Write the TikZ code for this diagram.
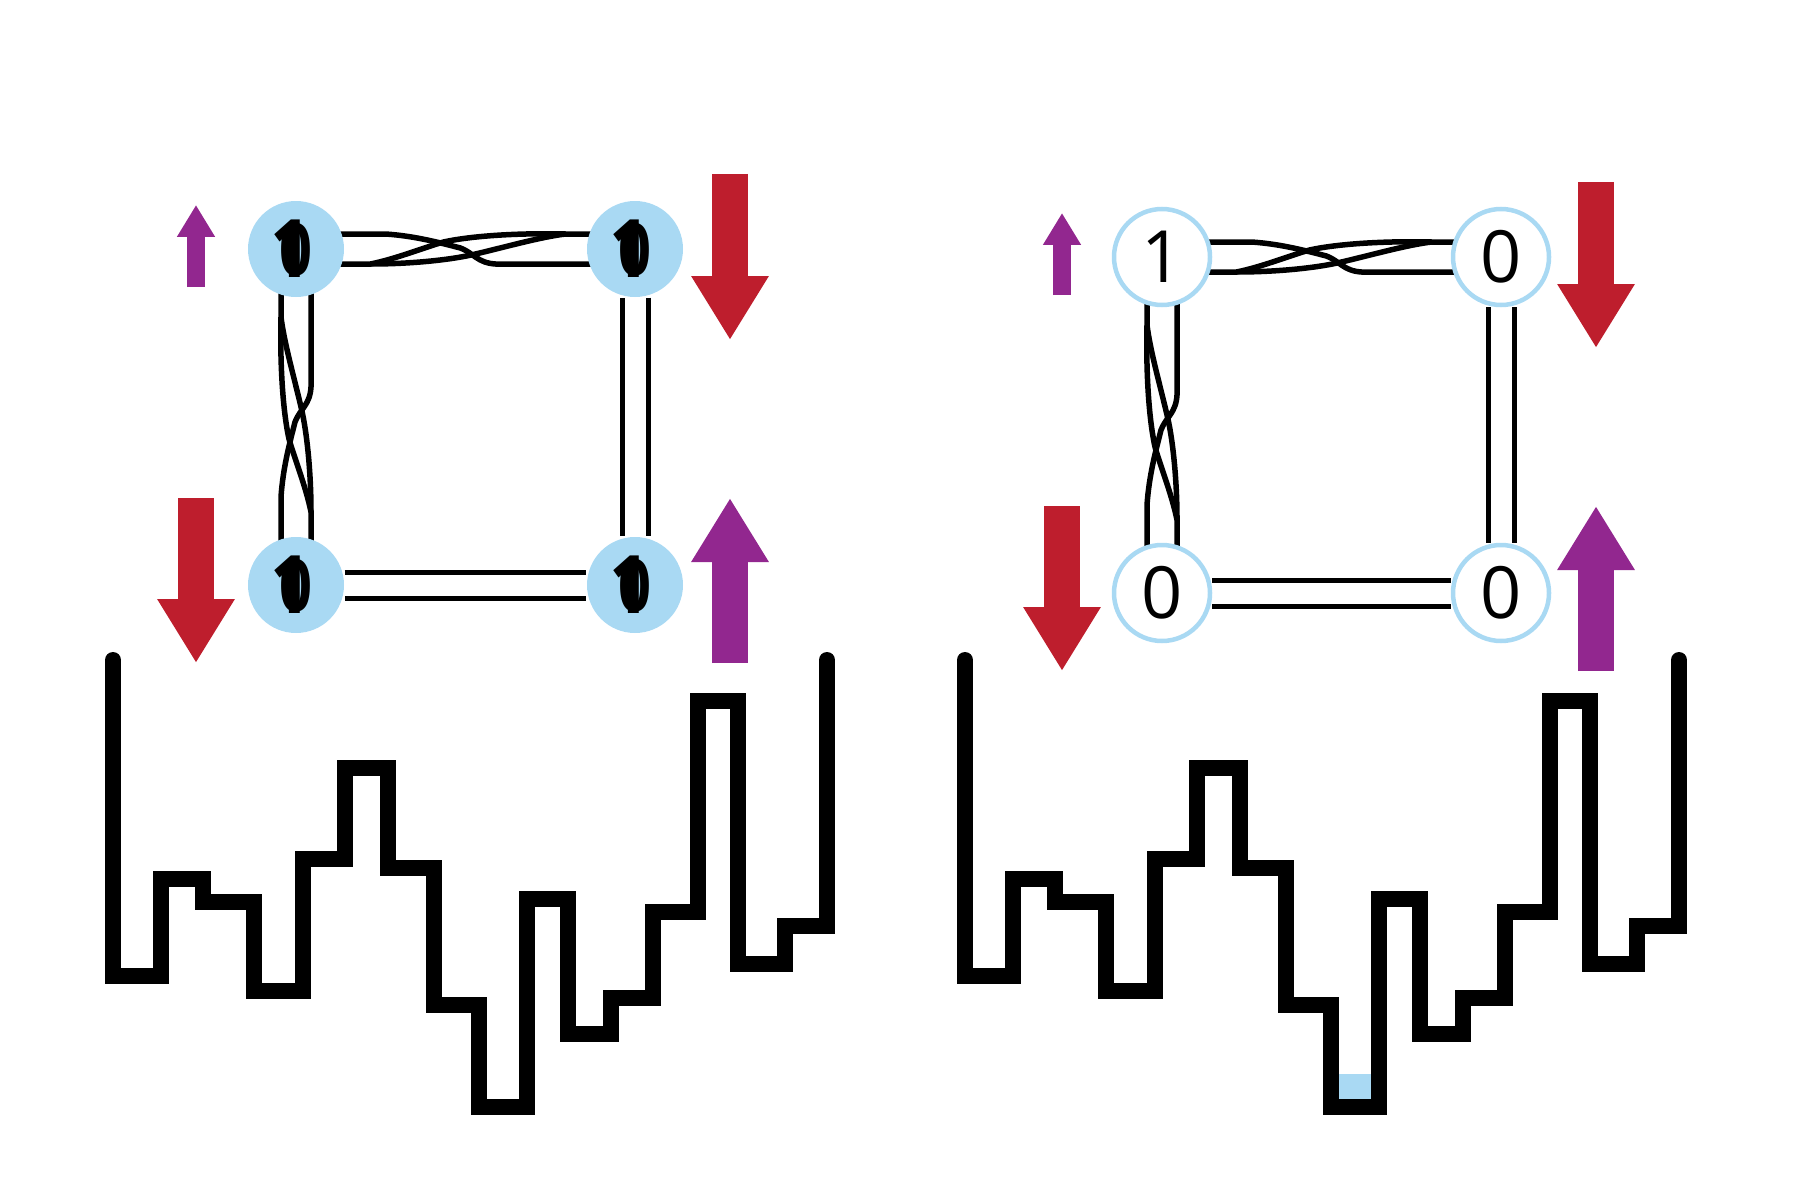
\documentclass[tikz,border=0pt]{standalone}
\usepackage{fontspec}
\setmainfont{Open Sans}
\usetikzlibrary{arrows.meta,calc,backgrounds}
\definecolor{siteBlue}{HTML}{A9D9F3}
\definecolor{spinRed}{HTML}{BE1E2D}
\definecolor{spinPurple}{HTML}{92278F}

% twisted pair of strands between two sites (third argument: angle)
\newcommand{\twistlink}[3]{%
  \begin{scope}[shift={($(#1)!0.5!(#2)$)},rotate=#3]
    \draw[strand] (-170,15) -- (-95,15) .. controls (-70,10) and (-40,-2) .. (-22,-7)
          .. controls (10,-14) and (60,-16) .. (100,-15) -- (170,-15);
    \draw[strand] (-95,15) .. controls (-50,15) and (-10,10) .. (10,5)
          .. controls (40,-2) and (75,-12) .. (100,-15);
    \draw[strand] (-170,-15) -- (-80,-15) .. controls (-50,-13) and (-25,-6) .. (-5,-1)
          .. controls (8,4) and (12,14) .. (30,15) -- (170,15);
  \end{scope}}
\newcommand{\mixedlabel}{\bfseries\makebox[0pt]{\scalebox{0.8}[1]{0}}%
  \makebox[0pt]{\kern-0.14em\raisebox{-0.03em}{\scalebox{1}[1.12]{1}}}}

\begin{document}
\begin{tikzpicture}[x=0.1mm,y=-0.1mm]
  \tikzstyle{site}=[circle,minimum size=9.6mm,inner sep=0pt,
                    font=\fontsize{20.5}{20.5}\selectfont]
  \tikzstyle{filled}=[site,fill=siteBlue]
  \tikzstyle{empty}=[site,fill=white,draw=siteBlue,line width=0.45mm]
  \tikzstyle{strand}=[line width=0.55mm,black]
  \tikzstyle{rail}=[line width=0.5mm,double distance=2.1mm]
  \tikzstyle{spinbig}=[line width=3.65mm,-{Triangle[length=6.4mm,width=7.3mm]}]
  \tikzstyle{spinsmall}=[line width=1.75mm,-{Triangle[length=3.2mm,width=3.6mm]}]
  \tikzstyle{landscape}=[line width=1.6mm,line cap=round,line join=miter]
  \useasboundingbox (0,0) rectangle (1800,1200);

  % left plaquette
  \node[filled] (ltl) at (296,249) {\mixedlabel};
  \node[filled] (ltr) at (635,249) {\mixedlabel};
  \node[filled] (lbl) at (296,585) {\mixedlabel};
  \node[filled] (lbr) at (635,585) {\mixedlabel};

  % right plaquette
  \node[empty] (rtl) at (1162,257) {1};
  \node[empty] (rtr) at (1501,257) {0};
  \node[empty] (rbl) at (1162,593) {0};
  \node[empty] (rbr) at (1501,593) {0};

  \begin{scope}[on background layer]
    \twistlink{ltl}{ltr}{0}
    \twistlink{lbl}{ltl}{90}
    \draw[rail] (ltr) -- (lbr);
    \draw[rail] (lbl) -- (lbr);
    \twistlink{rtl}{rtr}{0}
    \twistlink{rbl}{rtl}{90}
    \draw[rail] (rtr) -- (rbr);
    \draw[rail] (rbl) -- (rbr);
  \end{scope}

  % spins
  \foreach \p in {l,r} {
    \draw[spinsmall,spinPurple] ($(\p tl)+(-100,38)$) -- ($(\p tl)+(-100,-44)$);
    \draw[spinbig,spinRed] ($(\p tr)+(95,-75)$) -- ($(\p tr)+(95,91)$);
    \draw[spinbig,spinRed] ($(\p bl)+(-100,-87)$) -- ($(\p bl)+(-100,78)$);
    \draw[spinbig,spinPurple] ($(\p br)+(95,78)$) -- ($(\p br)+(95,-87)$);
  }

  % energy landscapes
  \fill[siteBlue] (1337,1074) rectangle (1373,1100);
  \foreach \dx in {0,852} {
    \draw[landscape,shift={(\dx,0)}] (113,660) -- (113,976) -- (161,976) -- (161,879)
      -- (203,879) -- (203,902) -- (254,902) -- (254,991) -- (303,991) -- (303,859)
      -- (345,859) -- (345,768) -- (388,768) -- (388,868) -- (434,868) -- (434,1005)
      -- (479,1005) -- (479,1107) -- (527,1107) -- (527,899) -- (568,899) -- (568,1034)
      -- (611,1034) -- (611,998) -- (653,998) -- (653,912) -- (698,912) -- (698,701)
      -- (738,701) -- (738,964) -- (785,964) -- (785,926) -- (827,926) -- (827,660);
  }
\end{tikzpicture}
\end{document}
